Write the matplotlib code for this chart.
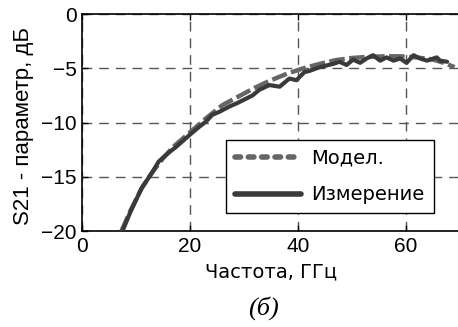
import numpy as np
import matplotlib
matplotlib.use('Agg')
import matplotlib.pyplot as plt
from matplotlib.lines import Line2D

freq_model = [7.3, 9, 11, 13, 15, 17, 20, 23, 26, 29, 32, 35, 38, 41, 44, 47,
              50, 53, 56, 59, 62, 65, 67, 69]
s21_model = [-20, -18.1, -16.1, -14.6, -13.3, -12.2, -10.9, -9.6, -8.4, -7.6,
             -6.8, -6.1, -5.5, -5.0, -4.6, -4.25, -4.05, -3.95, -3.9, -3.9,
             -4.0, -4.2, -4.5, -4.9]

freq_meas = [7.5, 9, 11.1, 13, 14.2, 16, 17.3, 18.9, 20.5, 21.7, 23, 24.1, 25.5,
             27.2, 28.8, 30.4, 31.6, 32.8, 34.7, 36.6, 38.4, 39.7, 41.2, 42.1,
             44.0, 46.5, 47.7, 49.0, 50.2, 51.5, 52.7, 53.9, 55.2, 56.4, 57.7,
             58.9, 60.1, 61.4, 62.6, 63.9, 65.7, 66.3, 67.6]
s21_meas = [-20, -18.2, -16.0, -14.6, -13.6, -12.8, -12.3, -11.6, -10.9, -10.4,
            -9.9, -9.3, -9.0, -8.55, -8.2, -7.8, -7.5, -7.0, -6.55, -6.7, -5.95,
            -6.1, -5.35, -5.25, -4.9, -4.6, -4.4, -4.7, -4.2, -4.5, -4.1, -3.8,
            -4.3, -4.0, -4.3, -4.1, -4.5, -3.8, -4.1, -4.3, -4.0, -4.3, -4.4]

x_ticks = [0, 20, 40, 60]
y_ticks = [0, -5, -10, -15, -20]
labels = [u'Модел.', u'Измерение']

TICK_SIZE = 15
LABEL_SIZE = 14

MODEL_C = '#666666'
MEAS_C = '#3a3a3a'

fig = plt.figure(figsize=(4.58, 3.27), dpi=100)
ax = fig.add_axes([82/458., 1-231/327., 378/458., 217/327.])

ax.plot(freq_model, s21_model, color=MODEL_C, lw=3.2, ls=(0, (3.5, 1.0)),
        dash_capstyle='butt', zorder=3)
ax.plot(freq_meas, s21_meas, color=MEAS_C, lw=3.0, solid_capstyle='round', zorder=4)

ax.set_xlim(0, 70)
ax.set_ylim(-20, 0)
ax.set_xticks(x_ticks)
ax.set_yticks(y_ticks)
ax.grid(True, ls=(0, (7, 5)), color='#555555', lw=1.0)
ax.tick_params(direction='in', length=4, width=1, top=True, pad=4,
               labelsize=TICK_SIZE, labelfontfamily='Liberation Sans')
for sp in ax.spines.values():
    sp.set_linewidth(1.2)

ax.set_xlabel(u'Частота, ГГц', fontsize=LABEL_SIZE, family='DejaVu Sans', labelpad=5)
fig.text(24/458., 1-126/327., u'S21 - параметр, дБ', rotation=90, ha='center',
         va='center', fontsize=16, family='Liberation Sans')
fig.text(263/458., 1-308/327., u'(б)', ha='center', va='center', fontsize=19,
         family='Liberation Serif', style='italic')

# legend handles: the model line shows as short round dots in the legend
h_model = Line2D([], [], color=MODEL_C, lw=4.0, ls=(0, (1.0, 1.4)), dash_capstyle='round')
h_meas = Line2D([], [], color=MEAS_C, lw=4.0, solid_capstyle='round')
leg = ax.legend([h_model, h_meas], labels, loc='upper right', bbox_to_anchor=(0.93, 0.419),
                fontsize=LABEL_SIZE, fancybox=False, framealpha=1, edgecolor='black',
                handlelength=3.4, borderaxespad=0, handletextpad=0.55, borderpad=0.45,
                labelspacing=0.9)
leg.get_frame().set_linewidth(1.0)

plt.savefig('out.png', dpi=100)
